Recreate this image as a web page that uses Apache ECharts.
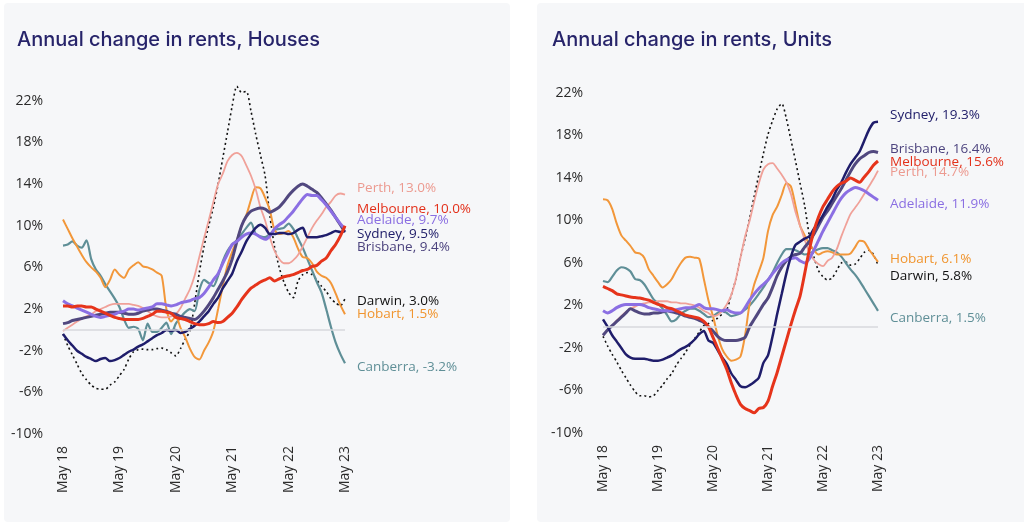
<!DOCTYPE html>
<html><head><meta charset="utf-8">
<script src="https://cdn.jsdelivr.net/npm/echarts@6/dist/echarts.min.js"></script>
<style>html,body{margin:0;padding:0;background:#ffffff}#c{width:1024px;height:524px}</style>
</head><body><div id="c"></div>
<script>
// ---------- DATA ----------
const monthNames = ['Jan','Feb','Mar','Apr','May','Jun','Jul','Aug','Sep','Oct','Nov','Dec'];
const categories = [];
for (let i = 0; i <= 60; i++) { const k = 4 + i; categories.push(monthNames[k % 12] + ' ' + (18 + Math.floor(k / 12))); }
const yTickValues = [-10, -6, -2, 2, 6, 10, 14, 18, 22];

// Houses
const hPerth = [-0.1,0.2,0.5,0.8,1.1,1.3,1.5,1.8,2.0,2.2,2.4, 2.5,2.5,2.5,2.5,2.4,2.3,2.1,1.8,1.5,1.3, 1.2,1.2,1.3,1.5,2.1,3.0,3.9,5.2,7.0,8.8, 10.5,12.3,14.0,15.0,16.2,16.8,17.0,16.7,15.8,14.8, 13.5,11.8,10.5,8.9,7.6,6.8,6.4,6.4,6.7,7.2, 8.0,8.9,9.8,10.5,11.1,11.8,12.3,12.9,13.1,13.0];
const hMelbourne = [2.3,2.3,2.2,2.3,2.3,2.2,2.2,2.0,1.8,1.6,1.4, 1.2,1.1,1.0,1.0,1.0,1.0,1.1,1.3,1.5,1.8, 1.8,1.7,1.6,1.2,1.1,1.0,0.8,0.6,0.5,0.5, 0.6,0.8,0.7,0.8,1.2,1.6,2.2,2.9,3.5,4.0, 4.3,4.6,4.8,5.0,4.7,4.9,5.1,5.2,5.3,5.5, 5.7,5.8,6.1,6.2,6.6,6.9,7.6,8.2,9.0,10.0];
const hAdelaide = [2.8,2.5,2.3,2.1,1.9,1.7,1.5,1.3,1.2,1.3,1.4, 1.5,1.7,1.8,2.0,2.0,1.9,2.0,2.1,2.2,2.5, 2.5,2.4,2.3,2.4,2.6,2.7,2.8,3.0,3.1,3.5, 4.1,4.8,5.4,6.4,7.3,8.2,8.5,8.9,9.2,9.3, 9.2,8.9,8.7,9.0,9.7,10.1,10.4,10.9,11.4,12.0, 12.6,13.0,12.9,12.9,12.5,12.0,11.4,10.8,10.2,9.7];
const hSydney = [-0.4,-1.0,-1.5,-2.0,-2.3,-2.6,-2.8,-3.0,-2.8,-2.7,-3.0, -2.9,-2.7,-2.4,-2.1,-1.9,-1.6,-1.4,-1.1,-0.8,-0.5, -0.3,0.0,-0.1,0.0,-0.3,-0.2,0.1,0.4,0.8,1.3, 1.8,2.5,3.1,4.0,4.7,5.4,6.6,7.5,8.5,9.2, 9.8,10.1,9.8,9.2,9.2,9.3,9.3,9.2,9.3,9.6, 9.8,8.9,8.9,8.9,9.0,9.1,9.3,9.5,9.4,9.5];
const hBrisbane = [0.6,0.7,0.9,1.0,1.1,1.2,1.3,1.4,1.5,1.6,1.7, 1.7,1.7,1.6,1.5,1.5,1.6,1.8,1.9,2.0,2.0, 1.9,1.8,1.6,1.5,1.3,1.2,1.1,1.0,1.3,1.8, 2.4,3.1,3.9,4.7,5.6,6.8,8.5,10.0,10.9,11.4, 11.6,11.7,11.6,11.3,11.5,11.8,12.3,12.9,13.4,13.8, 14.0,13.8,13.5,13.2,12.7,12.1,11.5,10.8,10.1,9.4];
const hDarwin = [-0.4,-1.5,-2.4,-3.3,-4.2,-4.8,-5.3,-5.6,-5.7,-5.7,-5.3, -5.0,-4.4,-3.8,-2.8,-2.1,-1.9,-1.85,-1.9,-1.9,-1.8, -1.75,-1.9,-2.2,-2.5,-1.8,-0.9,-0.1,2.5,5.5,8.0, 10.0,11.8,14.0,16.5,19.0,21.5,23.4,22.8,22.9,21.0, 18.8,16.8,14.8,11.0,8.0,6.0,4.6,3.6,3.1,4.7, 5.3,5.5,5.3,4.8,4.2,3.7,3.0,2.6,2.3,3.0];
const hHobart = [10.6,9.7,8.8,8.0,7.2,6.5,6.0,5.6,5.0,4.1,4.8, 5.8,5.3,5.0,5.8,6.2,6.5,6.1,6.0,5.8,5.5, 5.2,2.0,0.8,1.3,0.2,-0.7,-1.8,-2.6,-2.85,-2.0, -1.2,-0.1,2.0,4.2,6.2,7.5,8.6,10.0,11.0,12.5, 13.7,13.6,12.7,11.5,9.6,9.2,9.3,9.5,8.9,7.8, 7.0,6.9,6.4,5.6,5.2,5.0,4.5,3.5,2.4,1.5];
const hCanberra = [8.1,8.2,8.5,8.1,7.9,8.6,6.8,5.8,5.2,4.4,3.7, 3.0,2.2,1.0,0.2,0.3,0.1,-1.0,0.6,-0.2,-0.2, 0.2,0.7,-0.4,0.6,1.2,1.7,2.0,1.8,3.8,4.8, 4.5,4.2,5.2,6.6,7.6,8.2,8.6,9.2,9.8,10.3, 9.2,9.0,8.9,9.2,9.6,9.7,9.8,10.2,9.7,8.8, 7.9,6.8,5.7,4.6,3.6,2.0,0.3,-1.2,-2.3,-3.2];

// Units
const uPerth = [-0.8,-0.3,0.1,0.6,1.0,1.4,1.7,1.9,2.1,2.2,2.3, 2.3,2.4,2.4,2.4,2.3,2.3,2.2,2.2,2.1,2.0, 1.8,1.5,1.3,1.0,1.1,1.5,2.1,3.0,4.5,6.5, 8.5,10.0,11.8,13.5,14.8,15.3,15.4,14.9,14.3,13.6, 12.5,10.8,9.5,8.2,7.0,6.3,5.9,5.7,6.2,6.5, 7.3,8.5,9.6,10.6,11.2,11.8,12.5,13.2,13.9,14.7];
const uMelbourne = [3.8,3.6,3.4,3.1,3.0,2.9,2.8,2.75,2.7,2.6,2.5, 2.3,2.1,2.0,1.8,1.7,1.5,1.3,1.1,1.0,0.9, 0.8,0.5,0.0,-1.0,-2.0,-3.0,-4.0,-5.3,-6.4,-7.3, -7.7,-7.9,-8.1,-7.7,-7.6,-7.0,-5.6,-4.3,-2.8,-1.3, 0.2,1.6,2.9,5.0,7.2,9.0,10.3,11.3,12.0,12.7, 13.2,13.5,13.7,14.0,13.8,13.6,14.1,14.6,15.2,15.6];
const uAdelaide = [1.5,1.3,1.5,1.8,2.0,2.1,2.1,2.1,2.1,2.0,1.8, 1.7,1.6,1.5,1.5,1.5,1.6,1.7,1.8,1.8,1.9, 2.1,1.8,1.7,1.7,1.6,1.5,1.6,1.4,1.3,1.3, 1.8,2.5,3.1,3.6,4.0,4.4,5.0,5.5,6.0,6.3, 6.4,6.5,6.2,6.0,6.4,7.2,8.1,9.0,9.8,10.6, 11.4,12.1,12.6,12.9,13.1,13.0,12.8,12.5,12.2,11.9];
const uSydney = [0.7,0.0,-0.8,-1.4,-2.0,-2.6,-2.9,-3.0,-3.0,-3.0,-3.1, -3.2,-3.2,-3.1,-2.9,-2.7,-2.4,-2.1,-1.9,-1.6,-1.2, -0.7,-0.4,-1.3,-1.5,-2.2,-2.9,-3.5,-4.4,-5.0,-5.6, -5.7,-5.5,-5.2,-4.8,-3.4,-2.7,-0.9,1.2,3.1,5.0, 6.6,7.7,8.0,8.3,8.5,9.2,9.8,10.5,11.3,12.0, 12.9,13.6,14.5,15.3,15.9,16.5,17.5,18.5,19.2,19.3];
const uBrisbane = [-0.8,-0.3,0.1,0.5,0.9,1.3,1.7,1.5,1.3,1.2,1.2, 1.3,1.3,1.4,1.5,1.4,1.3,1.2,1.0,0.9,0.8, 0.6,0.4,0.0,-0.4,-0.9,-1.2,-1.3,-1.3,-1.3,-1.2, -1.0,0.0,0.7,1.4,2.1,2.7,3.7,4.8,5.6,6.2, 6.6,6.8,6.9,7.5,8.0,8.7,9.5,10.3,10.9,11.6, 12.3,13.0,13.8,14.6,15.3,15.8,16.1,16.4,16.5,16.4];
const uDarwin = [-0.9,-1.8,-2.6,-3.3,-4.1,-4.8,-5.5,-6.1,-6.5,-6.5,-6.6, -6.5,-6.0,-5.5,-4.9,-4.4,-3.6,-3.0,-2.4,-1.7,-1.1, -0.5,0.1,0.3,0.6,0.8,1.2,1.6,3.0,4.5,6.5, 8.3,10.2,12.3,14.3,16.3,18.1,19.4,20.5,21.0,19.6, 17.6,15.6,13.5,11.4,8.6,6.6,5.3,4.7,4.4,4.6, 5.3,6.0,6.1,5.8,5.9,6.4,7.0,7.2,6.8,5.8];
const uHobart = [12.0,11.9,11.1,9.7,8.6,8.1,7.6,7.0,6.9,6.5,5.4, 4.8,4.2,3.7,4.0,4.5,5.3,6.0,6.5,6.6,6.5, 6.4,4.5,2.5,1.0,-0.8,-2.1,-2.8,-3.2,-3.1,-2.8, -0.8,2.2,4.0,5.2,6.5,9.0,10.5,11.3,12.4,13.5, 13.2,11.4,9.5,8.6,7.8,7.2,6.8,7.0,7.1,7.0, 6.8,6.8,6.8,6.9,7.5,8.1,8.0,7.3,6.7,6.1];
const uCanberra = [4.3,4.2,4.7,5.3,5.6,5.5,5.2,4.5,4.4,4.0,3.3, 2.6,2.2,1.7,1.1,0.5,0.7,1.2,1.5,1.7,1.7, 1.5,1.2,0.9,1.0,1.3,1.5,1.3,1.0,1.1,1.3, 1.6,2.0,2.5,3.1,3.7,4.4,5.1,6.0,6.8,7.3, 7.3,7.2,7.0,6.8,6.9,7.1,7.3,7.4,7.4,7.2, 7.0,6.6,6.0,5.4,4.9,4.3,3.6,2.9,2.2,1.5];

const houses = {Perth:hPerth, Melbourne:hMelbourne, Adelaide:hAdelaide, Sydney:hSydney, Brisbane:hBrisbane, Darwin:hDarwin, Hobart:hHobart, Canberra:hCanberra};
const units  = {Perth:uPerth, Melbourne:uMelbourne, Adelaide:uAdelaide, Sydney:uSydney, Brisbane:uBrisbane, Darwin:uDarwin, Hobart:uHobart, Canberra:uCanberra};

// ---------- STYLE ----------
const drawOrder = ['Darwin','Canberra','Hobart','Perth','Brisbane','Adelaide','Sydney','Melbourne'];
const style = {
  Perth:     {color:'#f0a199', label:'#ec9a90', width:1.8, type:'solid'},
  Melbourne: {color:'#e6341b', label:'#e3301a', width:3,   type:'solid'},
  Adelaide:  {color:'#8b6fe3', label:'#8a6ee2', width:3,   type:'solid'},
  Sydney:    {color:'#1f1d6b', label:'#22206b', width:2.5, type:'solid'},
  Brisbane:  {color:'#51487f', label:'#4c437e', width:3,   type:'solid'},
  Darwin:    {color:'#111111', label:'#111111', width:1.6, type:[2,3]},
  Hobart:    {color:'#f2973a', label:'#f0952f', width:2,   type:'solid'},
  Canberra:  {color:'#5f8f97', label:'#5f8f97', width:2.2, type:'solid'}
};
const labelDy = [
  {Perth:-6, Melbourne:-17, Adelaide:-9, Sydney:3, Brisbane:15, Darwin:3, Hobart:0, Canberra:4},
  {Sydney:-7, Brisbane:-3, Melbourne:1, Perth:2, Adelaide:4, Hobart:-3, Darwin:11, Canberra:7}
];
const FONT = '"Open Sans", "Noto Sans", sans-serif';

const chart = echarts.init(document.getElementById('c'), null, {renderer:'canvas'});

function makeSeries(dataMap, idx) {
  return drawOrder.map((name, i) => {
    const s = style[name];
    const ser = {
      name, type:'line', xAxisIndex:idx, yAxisIndex:idx,
      data: dataMap[name], showSymbol:false, smooth:0.25,
      lineStyle:{color:s.color, width:s.width, type:s.type},
      itemStyle:{color:s.color},
      emphasis:{disabled:true},
      endLabel:{
        show:true, distance:12, offset:[0, labelDy[idx][name]],
        color:s.label, fontSize:13.5, fontFamily:FONT,
        formatter: p => p.seriesName + ', ' + Number(p.value).toFixed(1) + '%'
      }
    };
    if (i === 0) {
      ser.markLine = {silent:true, symbol:['none','none'], label:{show:false},
        lineStyle:{color:'#d7d8dc', width:1.5, type:'solid'}, data:[{yAxis:0}]};
    }
    return ser;
  });
}

const yLabel = v => yTickValues.indexOf(v) >= 0 ? v + '%' : '';
function yAxis(gi, max) {
  return {type:'value', gridIndex:gi, min:-10, max:max, interval:4,
    splitLine:{show:false}, axisLine:{show:false}, axisTick:{show:false},
    axisLabel:{formatter:yLabel, color:'#2b2b2b', fontSize:14, fontFamily:FONT, margin:20}};
}
function xAxis(gi) {
  return {type:'category', gridIndex:gi, data:categories, boundaryGap:false,
    axisLine:{show:false}, axisTick:{show:false}, splitLine:{show:false},
    axisLabel:{interval:11, rotate:90, color:'#2b2b2b', fontSize:14, fontFamily:FONT, margin:12}};
}

const titleStyle = {fontSize:20, fontWeight:500, color:'#27246a', fontFamily:'Inter, "Noto Sans", sans-serif'};

chart.setOption({
  animation:false,
  backgroundColor:'#ffffff',
  graphic:[
    {type:'rect', z:-10, shape:{x:4, y:3, width:506, height:519, r:4}, style:{fill:'#f6f7f9'}},
    {type:'rect', z:-10, shape:{x:537, y:3, width:490, height:519, r:4}, style:{fill:'#f6f7f9'}}
  ],
  title:[
    {text:'Annual change in rents, Houses', left:12, top:25, textStyle:titleStyle},
    {text:'Annual change in rents, Units', left:547, top:25, textStyle:titleStyle}
  ],
  grid:[
    {left:63, top:80, width:282, height:354},
    {left:603, top:93, width:275, height:340}
  ],
  xAxis:[xAxis(0), xAxis(1)],
  yAxis:[yAxis(0, 24), yAxis(1, 22)],
  series: makeSeries(houses, 0).concat(makeSeries(units, 1))
});
</script>
</body></html>
